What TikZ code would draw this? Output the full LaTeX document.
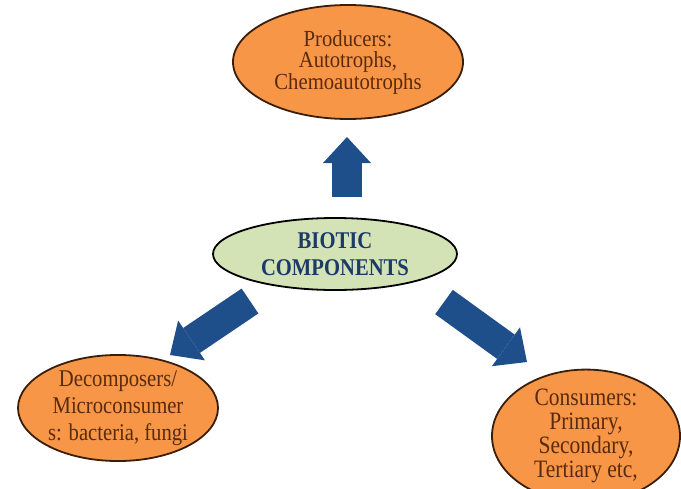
\documentclass[tikz,border=0pt]{standalone}
\usepackage{fontspec}
\usepackage{tikz}
\usetikzlibrary{arrows.meta,shapes.geometric}
\newfontfamily\labelfont[FakeStretch=0.86]{Liberation Serif}
\newfontfamily\topfont[FakeStretch=0.9]{Liberation Serif}
\definecolor{fillorange}{HTML}{F79646}
\definecolor{rimbrown}{HTML}{3A1E0A}
\definecolor{textbrown}{HTML}{5A2A0E}
\definecolor{fillgreen}{HTML}{D4E3B5}
\definecolor{textnavy}{HTML}{1B3A66}
\definecolor{arrowblue}{HTML}{1F4F8A}

\begin{document}
\begin{tikzpicture}[x=1pt, y=-1pt,
    orangeball/.style={ellipse, draw=rimbrown, line width=1.8pt, fill=fillorange, text=textbrown, align=center, inner sep=0pt},
    blockarrow/.style={draw=arrowblue, line width=30pt, -{Triangle[length=26pt, width=48pt, line width=0pt]}}]
        \useasboundingbox (0,0) rectangle (681,488);

        % centro y tres ramas
        \node[ellipse, draw=black, line width=1.8pt, fill=fillgreen, text=textnavy, align=center,
              minimum width=244pt, minimum height=72pt, inner sep=0pt,
              font=\labelfont\bfseries\fontsize{24}{27}\selectfont] (biotic) at (335,254) {BIOTIC\\COMPONENTS};
        \node[orangeball, minimum width=230pt, minimum height=114pt,
              font=\topfont\fontsize{23}{21.5}\selectfont] (prod) at (348,62) {Producers:\\Autotrophs,\\Chemoautotrophs};
        \node[orangeball, minimum width=200pt, minimum height=104pt,
              font=\labelfont\fontsize{24}{27}\selectfont] (decomp) at (118,408) {Decomposers/\\Microconsumer\\s: bacteria, fungi};
        \node[orangeball, minimum width=188pt, minimum height=124pt,
              font=\labelfont\fontsize{25}{24}\selectfont] (cons) at (586,436) {Consumers:\\Primary,\\Secondary,\\Tertiary etc,};

        % flechas gruesas
        \coordinate (upA) at (347,197);
        \coordinate (upB) at (347,137);
        \coordinate (leftA) at (250,301);
        \coordinate (leftB) at (170,355);
        \coordinate (rightA) at (444,302);
        \coordinate (rightB) at (527,362);
        \draw[blockarrow] (upA) -- (upB);
        \draw[blockarrow] (leftA) -- (leftB);
        \draw[blockarrow] (rightA) -- (rightB);
\end{tikzpicture}
\end{document}
